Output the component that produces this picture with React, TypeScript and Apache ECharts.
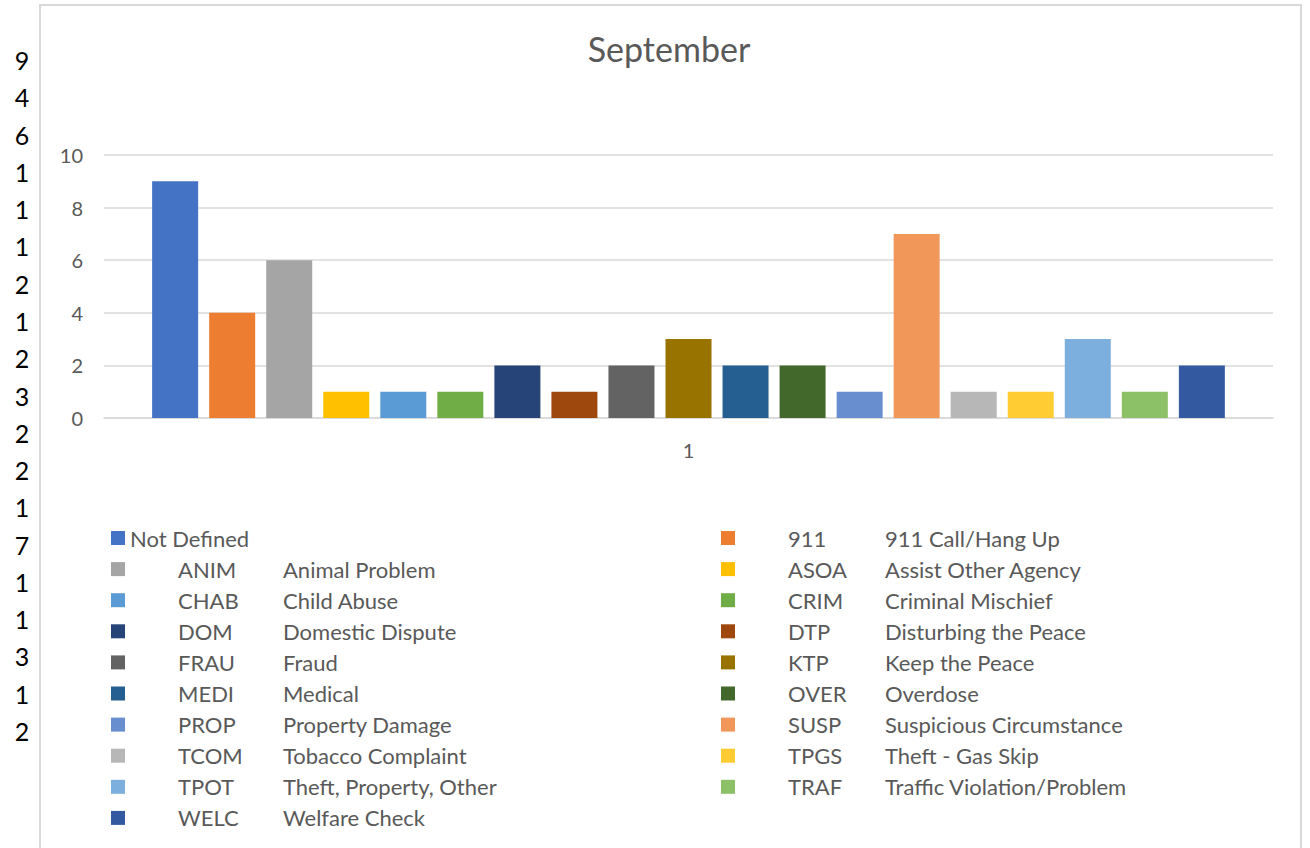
import React, { useEffect, useRef } from "react";
import * as echarts from "echarts";

const categories = ["1"];
const codes = ["", "911", "ANIM", "ASOA", "CHAB", "CRIM", "DOM", "DTP", "FRAU", "KTP", "MEDI", "OVER", "PROP", "SUSP", "TCOM", "TPGS", "TPOT", "TRAF", "WELC"];
const descriptions = [
  "Not Defined", "911 Call/Hang Up", "Animal Problem", "Assist Other Agency", "Child Abuse",
  "Criminal Mischief", "Domestic Dispute", "Disturbing the Peace", "Fraud", "Keep the Peace",
  "Medical", "Overdose", "Property Damage", "Suspicious Circumstance", "Tobacco Complaint",
  "Theft - Gas Skip", "Theft, Property, Other", "Traffic Violation/Problem", "Welfare Check",
];
const counts = [9, 4, 6, 1, 1, 1, 2, 1, 2, 3, 2, 2, 1, 7, 1, 1, 3, 1, 2];
const colors = [
  "#4472C4", "#ED7D31", "#A5A5A5", "#FFC000", "#5B9BD5", "#70AD47", "#264478", "#9E480E",
  "#636363", "#997300", "#255E91", "#43682B", "#698ED0", "#F1975A", "#B7B7B7", "#FFCD33",
  "#7CAFDD", "#8CC168", "#335AA1",
];
const yTicks = { min: 0, max: 10, interval: 2 };

const FONT = "Lato, 'Open Sans', sans-serif";
const GRAY = "#595959";

const names = descriptions.map((d, i) => (codes[i] ? `${codes[i]} ${d}` : d));

function legendFormatter(name: string) {
  const i = names.indexOf(name);
  if (i < 0 || !codes[i]) return `{n|${name}}`;
  return `{c|${codes[i]}}{d|${descriptions[i]}}`;
}

function legendStyle(codeWidth: number) {
  const base = { fontFamily: FONT, fontSize: 22, color: GRAY, lineHeight: 24 };
  return {
    ...base,
    rich: {
      n: { ...base },
      c: { ...base, width: codeWidth, padding: [0, 0, 0, 48] },
      d: { ...base },
    },
  };
}

export default function App() {
  const ref = useRef<HTMLDivElement>(null);
  useEffect(() => {
    if (!ref.current) return;
    const chart = echarts.init(ref.current, null, { renderer: "svg" });
    const leftIdx = names.map((_, i) => i).filter((i) => i % 2 === 0);
    const rightIdx = names.map((_, i) => i).filter((i) => i % 2 === 1);

    const sideNumbers = counts.map((v, i) => ({
      type: "text",
      x: 22,
      y: 60 + 37.28 * i,
      style: {
        text: String(v),
        fontFamily: FONT,
        fontSize: 25,
        fill: "#000000",
        textAlign: "center",
        textVerticalAlign: "middle",
      },
    }));

    chart.setOption({
      animation: false,
      backgroundColor: "#ffffff",
      title: {
        text: "September",
        left: 664,
        top: 26,
        textAlign: "center",
        textStyle: { fontFamily: FONT, fontSize: 34, fontWeight: "normal", color: GRAY },
      },
      graphic: [
        {
          type: "rect",
          shape: { x: 40, y: 5, width: 1261, height: 900 },
          style: { fill: "none", stroke: "#d9d9d9", lineWidth: 2 },
          silent: true,
        },
        ...sideNumbers,
      ],
      legend: [
        {
          orient: "vertical",
          left: 106,
          top: 521,
          itemWidth: 14,
          itemHeight: 14,
          itemGap: 7.1,
          icon: "rect",
          data: leftIdx.map((i) => names[i]),
          formatter: legendFormatter,
          textStyle: legendStyle(105),
        },
        {
          orient: "vertical",
          left: 716,
          top: 521,
          itemWidth: 14,
          itemHeight: 14,
          itemGap: 7.1,
          icon: "rect",
          data: rightIdx.map((i) => names[i]),
          formatter: legendFormatter,
          textStyle: legendStyle(97),
        },
      ],
      grid: { left: 104, right: 37, top: 155, bottom: 430, containLabel: false },
      xAxis: {
        type: "category",
        data: categories,
        axisLine: { lineStyle: { color: "#d9d9d9", width: 1.5 } },
        axisTick: { show: false },
        axisLabel: { margin: 22, fontFamily: FONT, fontSize: 20, color: GRAY },
      },
      yAxis: {
        type: "value",
        min: yTicks.min,
        max: yTicks.max,
        interval: yTicks.interval,
        axisLine: { show: false },
        axisTick: { show: false },
        splitLine: { lineStyle: { color: "#d9d9d9", width: 1.5 } },
        axisLabel: { margin: 21, fontFamily: FONT, fontSize: 20, color: GRAY },
      },
      series: counts.map((v, i) => ({
        type: "bar",
        name: names[i],
        data: [v],
        barWidth: 46,
        barGap: "24%",
        itemStyle: { color: colors[i] },
      })),
    });
    return () => chart.dispose();
  }, []);
  return (
    <div
      ref={ref}
      style={{ position: "absolute", left: 0, top: 0, width: 1310, height: 848 }}
    />
  );
}
